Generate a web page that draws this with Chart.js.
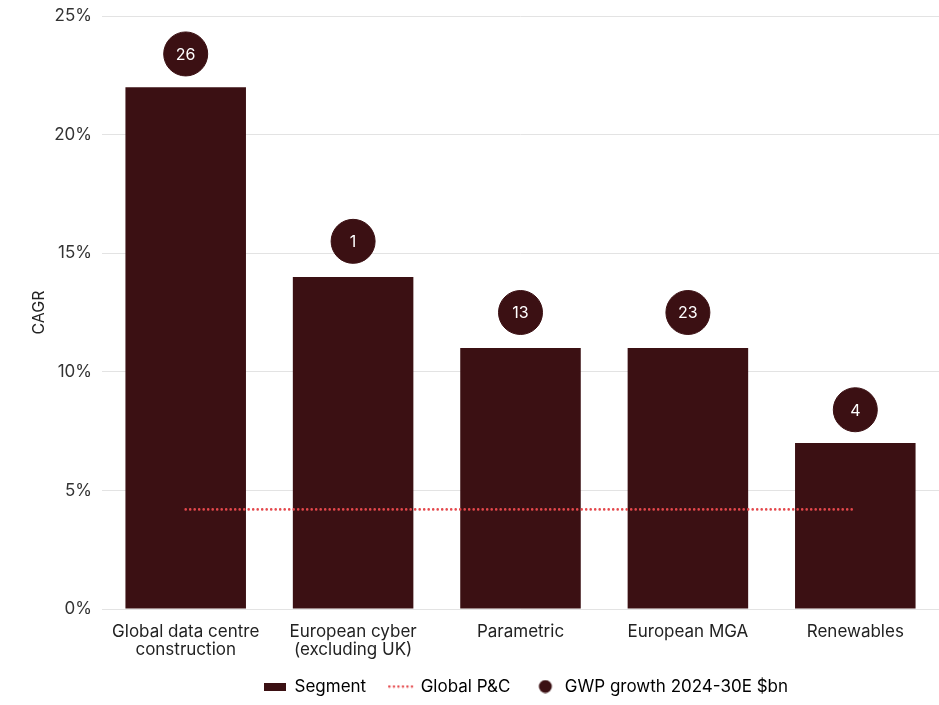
<!DOCTYPE html>
<html>
<head>
<meta charset="utf-8">
<title>CAGR by segment</title>
<script src="https://cdn.jsdelivr.net/npm/chart.js@4.4.1/dist/chart.umd.min.js"></script>
<style>
  html, body { margin: 0; padding: 0; background: #fff; overflow: hidden; }
  #wrap { width: 939px; height: 705px; }
  canvas { display: block; }
</style>
</head>
<body>
<div id="wrap"><canvas id="chartCagr"></canvas></div>
<script>
// ── Données ─────────────────────────────────────────
const categories = [
  ['Global data centre', 'construction'],
  ['European cyber', '(excluding UK)'],
  'Parametric',
  'European MGA',
  'Renewables'
];
const segmentCagr = [22, 14, 11, 11, 7];          // % CAGR
const globalPC    = [4.2, 4.2, 4.2, 4.2, 4.2];    // Global P&C reference
const gwpGrowth   = [26, 1, 13, 23, 4];           // $bn, shown in the circles
const bubbleLevel = [23.4, 15.5, 12.5, 12.5, 8.4];// where the circles sit (%)
const yTicks      = [0, 5, 10, 15, 20, 25];

const MAROON = '#3b1013';
const RED    = '#e4484c';
const FONT   = 'Inter, "Noto Sans", sans-serif';

// ── Icônes de légende ───────────────────────────────
function makeIcon(w, h, draw) {
  const c = document.createElement('canvas');
  c.width = w; c.height = h;
  draw(c.getContext('2d'));
  return c;
}
const iconSegment = makeIcon(22, 8, ctx => {
  ctx.fillStyle = MAROON;
  ctx.fillRect(0, 0, 22, 8);
});
const iconLine = makeIcon(26, 4, ctx => {
  ctx.fillStyle = RED;
  for (let x = 1.3; x < 26; x += 4.5) {
    ctx.beginPath(); ctx.arc(x, 2, 1.2, 0, Math.PI * 2); ctx.fill();
  }
});
const iconDot = makeIcon(22, 14, ctx => {
  ctx.fillStyle = MAROON;
  ctx.beginPath(); ctx.arc(11, 7, 6.5, 0, Math.PI * 2); ctx.fill();
});

// ── Plugin : chiffres dans les cercles + position de la légende ──
const bubbleText = {
  id: 'bubbleText',
  afterLayout(chart) {
    const lg = chart.legend;
    lg.left = 240;
    lg.top = 654;
    lg.bottom = 705;
  },
  afterDatasetsDraw(chart) {
    const meta = chart.getDatasetMeta(2);
    const ctx = chart.ctx;
    ctx.save();
    ctx.fillStyle = '#ffffff';
    ctx.font = '16px ' + FONT;
    ctx.textAlign = 'center';
    ctx.textBaseline = 'middle';
    meta.data.forEach((pt, i) => {
      ctx.fillText(String(gwpGrowth[i]), pt.x, pt.y + 1);
    });
    ctx.restore();
  }
};

Chart.defaults.font.family = FONT;
Chart.defaults.color = '#2b2b2b';

new Chart(document.getElementById('chartCagr'), {
  data: {
    labels: categories,
    datasets: [
      {
        type: 'bar',
        label: 'Segment',
        data: segmentCagr,
        backgroundColor: MAROON,
        categoryPercentage: 0.9,
        barPercentage: 0.8,
        order: 3
      },
      {
        type: 'line',
        label: 'Global P&C',
        data: globalPC,
        borderColor: RED,
        borderWidth: 2.6,
        borderDash: [0, 4.5],
        borderCapStyle: 'round',
        pointRadius: 0,
        fill: false,
        order: 2
      },
      {
        type: 'line',
        label: 'GWP growth 2024-30E $bn',
        data: bubbleLevel,
        showLine: false,
        pointRadius: 22,
        pointHoverRadius: 22,
        pointBackgroundColor: MAROON,
        pointBorderColor: MAROON,
        pointBorderWidth: 1,
        order: 1
      }
    ]
  },
  options: {
    responsive: true,
    maintainAspectRatio: false,
    animation: false,
    layout: { autoPadding: false, padding: { top: 16, right: 0, bottom: -15, left: 0 } },
    plugins: {
      tooltip: { enabled: false },
      legend: {
        position: 'bottom',
        align: 'start',
        labels: {
          usePointStyle: true,
          pointStyleWidth: 22,
          padding: 24,
          color: '#2b2b2b',
          font: { size: 17 },
          generateLabels: () => [
            { text: 'Segment', pointStyle: iconSegment, datasetIndex: 0, lineWidth: 0 },
            { text: 'Global P&C', pointStyle: iconLine, datasetIndex: 1, lineWidth: 0 },
            { text: 'GWP growth 2024-30E $bn', pointStyle: iconDot, datasetIndex: 2, lineWidth: 0 }
          ]
        }
      }
    },
    scales: {
      x: {
        afterFit: scale => { scale.height = 60; },
        grid: { display: false, drawTicks: false },
        border: { display: false },
        ticks: {
          padding: 14,
          maxRotation: 0,
          autoSkip: false,
          color: '#222',
          font: { size: 17, lineHeight: 1.04 }
        }
      },
      y: {
        min: 0,
        max: 25,
        afterFit: scale => {
          scale.width = 102;
          scale.paddingTop = 0;
          scale.paddingBottom = 0;
        },
        afterBuildTicks: scale => { scale.ticks = yTicks.map(v => ({ value: v })); },
        grid: { color: '#e3e3e3', drawTicks: false },
        border: { display: false },
        ticks: {
          padding: 10,
          color: '#333',
          font: { size: 17 },
          callback: v => v + '%'
        },
        title: {
          display: true,
          text: 'CAGR',
          color: '#222',
          font: { size: 16 },
          padding: { top: 30, bottom: 0 }
        }
      }
    }
  },
  plugins: [bubbleText]
});
</script>
</body>
</html>
